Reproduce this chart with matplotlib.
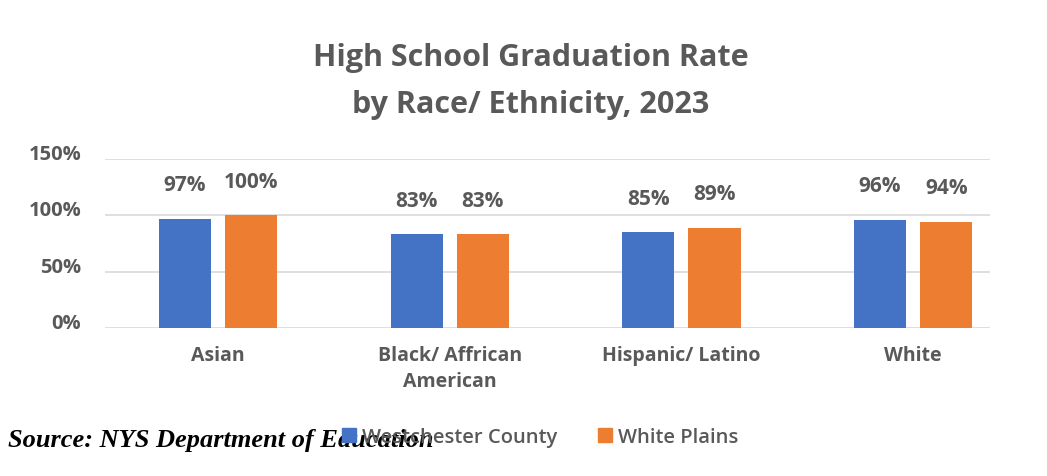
import matplotlib
matplotlib.use("Agg")
import matplotlib.pyplot as plt
import matplotlib.transforms as mtransforms
import numpy as np

categories = ["Asian", "Black/ Affrican\nAmerican", "Hispanic/ Latino", "White"]
westchester = [97, 83, 85, 96]
white_plains = [100, 83, 89, 94]
series_names = ["Westchester County", "White Plains"]
yticks = [0, 50, 100, 150]

BLUE = "#4472C4"
ORANGE = "#ED7D31"
GRAY = "#595959"
FONT = "Open Sans"

fig = plt.figure(figsize=(10.47, 4.77), dpi=100)
W, H = 1047, 477

# axes placed in pixel units: x 105..990, y 160..329
ax = fig.add_axes([105 / W, 1 - 329 / H, (990 - 105) / W, (329 - 160) / H])

x = np.arange(len(categories))
bw = 0.225
off = 0.143
b1 = ax.bar(x - off, westchester, bw, color=BLUE, zorder=3)
b2 = ax.bar(x + off, white_plains, bw, color=ORANGE, zorder=3)

for bars, vals in ((b1, westchester), (b2, white_plains)):
    for r, v in zip(bars, vals):
        ax.annotate(f"{v}%", (r.get_x() + r.get_width() / 2, v),
                    xytext=(0, 17), textcoords="offset points",
                    ha="center", va="bottom", fontsize=15,
                    fontweight="bold", color=GRAY, family=FONT)

ax.set_xlim(-0.488, 3.332)
ax.set_ylim(0, 150)
ax.set_yticks(yticks)
ax.set_yticklabels([])
ax.set_xticks(x)
ax.set_xticklabels(categories, linespacing=1.45)
for lab in ax.get_xticklabels():
    lab.set_fontsize(14)
    lab.set_fontweight("bold")
    lab.set_color(GRAY)
    lab.set_family(FONT)
ax.tick_params(axis="both", length=0)
ax.tick_params(axis="x", pad=12)
ax.grid(axis="y", color="#D9D9D9", linewidth=1.2, zorder=0)
for s in ax.spines.values():
    s.set_visible(False)

# y labels sit slightly above their gridlines
ytrans = mtransforms.blended_transform_factory(ax.transAxes, ax.transData) + \
    mtransforms.ScaledTranslation(-24 / 100, 5 / 100, fig.dpi_scale_trans)
for t in yticks:
    ax.text(0, t, f"{t}%", transform=ytrans, ha="right", va="center",
            fontsize=14.5, fontweight="bold", color=GRAY, family=FONT)

fig.text(531 / W, 1 - 58 / H, "High School Graduation Rate", ha="center",
         va="center", fontsize=22, fontweight="bold", color=GRAY, family=FONT)
fig.text(531 / W, 1 - 105 / H, "by Race/ Ethnicity, 2023", ha="center",
         va="center", fontsize=22, fontweight="bold", color=GRAY, family=FONT)

# legend
handles = [plt.Rectangle((0, 0), 1, 1, color=BLUE),
           plt.Rectangle((0, 0), 1, 1, color=ORANGE)]
fig.legend(handles, series_names, loc="center", bbox_to_anchor=(540 / W, 1 - 438 / H),
           ncol=2, frameon=False, handlelength=0.7, handleheight=0.7,
           handletextpad=0.3, columnspacing=2.0,
           prop={"family": FONT, "weight": "semibold", "size": 14.5}, labelcolor=GRAY)

fig.text(8 / W, 1 - 441 / H, "Source: NYS Department of Education", ha="left",
         va="center", fontsize=19, fontweight="bold", style="italic",
         color="black", family="Liberation Serif")

fig.savefig("out.png", dpi=100, facecolor="white")
